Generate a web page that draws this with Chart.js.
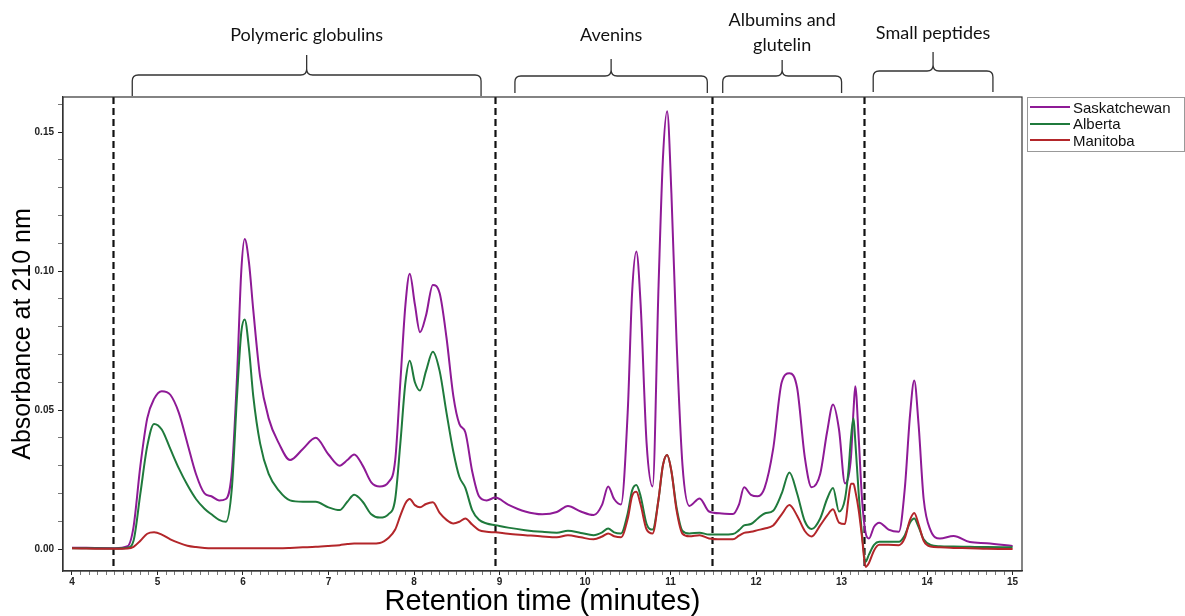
<!DOCTYPE html>
<html>
<head>
<meta charset="utf-8">
<title>Oat protein chromatogram</title>
<script src="https://cdn.jsdelivr.net/npm/chart.js@4.4.1/dist/chart.umd.min.js"></script>
<style>
    html, body { margin: 0; padding: 0; background: #fff; }
    #wrap { position: relative; width: 1185px; height: 616px; }
    #legend {
        position: absolute; left: 1027px; top: 97px; width: 158px; height: 55px;
        box-sizing: border-box; border: 1px solid #999; padding-top: 1px;
        font: 15px "Liberation Sans", Arial, sans-serif; color: #111;
    }
    #legend .row { display: flex; align-items: center; height: 16.5px; }
    #legend .swatch { width: 40px; height: 2px; margin: 0 3px 0 2px; }
</style>
</head>
<body>
<div id="wrap">
    <canvas id="chromatogram" width="1185" height="616"></canvas>
    <div id="legend"></div>
</div>
<script>
// Retention time (minutes) shared by all three traces
const retentionTime = [
    4.0, 4.5, 4.65, 4.72, 4.8, 4.88, 4.96, 5.05, 5.15, 5.25,
    5.35, 5.45, 5.55, 5.63, 5.72, 5.8, 5.87, 5.93, 5.98, 6.02,
    6.07, 6.12, 6.2, 6.3, 6.42, 6.55, 6.7, 6.85, 7.0, 7.13,
    7.22, 7.3, 7.4, 7.5, 7.6, 7.7, 7.78, 7.84, 7.9, 7.95,
    8.01, 8.07, 8.14, 8.22, 8.3, 8.38, 8.46, 8.53, 8.6, 8.68,
    8.76, 8.85, 8.95, 9.1, 9.3, 9.5, 9.67, 9.8, 9.95, 10.1,
    10.2, 10.27, 10.34, 10.42, 10.5, 10.55, 10.6, 10.65, 10.72, 10.79,
    10.86, 10.91, 10.96, 11.01, 11.07, 11.14, 11.22, 11.34, 11.45, 11.6,
    11.73, 11.8, 11.86, 11.94, 12.02, 12.1, 12.2, 12.3, 12.39, 12.48,
    12.57, 12.65, 12.75, 12.83, 12.9, 12.97, 13.04, 13.08, 13.11, 13.14,
    13.16, 13.2, 13.24, 13.28, 13.32, 13.38, 13.44, 13.55, 13.67, 13.74,
    13.8, 13.85, 13.9, 13.96, 14.04, 14.15, 14.31, 14.5, 14.7, 15.0
];

// Absorbance at 210 nm
const saskatchewan = [
    0.0005, 0.0003, 0.001, 0.008, 0.030, 0.047, 0.054, 0.0568, 0.0555, 0.049,
    0.038, 0.027, 0.020, 0.019, 0.0175, 0.018, 0.028, 0.062, 0.100, 0.1115,
    0.103, 0.086, 0.062, 0.047, 0.038, 0.032, 0.036, 0.040, 0.034, 0.030,
    0.032, 0.034, 0.030, 0.024, 0.0225, 0.024, 0.032, 0.060, 0.088, 0.099,
    0.088, 0.078, 0.084, 0.095, 0.092, 0.076, 0.055, 0.045, 0.042, 0.028,
    0.019, 0.0175, 0.0185, 0.016, 0.0135, 0.0125, 0.0133, 0.0155, 0.0135, 0.0122,
    0.016, 0.0225, 0.018, 0.016, 0.050, 0.092, 0.107, 0.088, 0.038, 0.0225,
    0.095, 0.140, 0.1575, 0.128, 0.075, 0.030, 0.0155, 0.0182, 0.0135, 0.0128,
    0.0126, 0.016, 0.0222, 0.0195, 0.019, 0.022, 0.036, 0.060, 0.0632, 0.058,
    0.033, 0.0222, 0.027, 0.042, 0.052, 0.043, 0.0236, 0.026, 0.033, 0.050,
    0.0586, 0.040, 0.0176, 0.006, 0.0038, 0.008, 0.0095, 0.007, 0.0062, 0.022,
    0.048, 0.0606, 0.045, 0.018, 0.0068, 0.0038, 0.0047, 0.0025, 0.0021, 0.0011
];
const alberta = [
    0.0003, 0.0002, 0.0005, 0.003, 0.020, 0.037, 0.045, 0.043, 0.036, 0.029,
    0.023, 0.018, 0.0145, 0.0125, 0.0105, 0.0098, 0.022, 0.055, 0.078, 0.0826,
    0.072, 0.055, 0.038, 0.027, 0.021, 0.0175, 0.017, 0.017, 0.015, 0.014,
    0.017, 0.0195, 0.017, 0.0125, 0.0113, 0.0125, 0.018, 0.038, 0.060, 0.0677,
    0.060, 0.057, 0.064, 0.071, 0.064, 0.049, 0.035, 0.026, 0.022, 0.014,
    0.0105, 0.0092, 0.0086, 0.0077, 0.0068, 0.0062, 0.0059, 0.0066, 0.0058, 0.005,
    0.006, 0.0074, 0.006, 0.0056, 0.013, 0.021, 0.023, 0.019, 0.009, 0.007,
    0.018, 0.030, 0.0338, 0.028, 0.015, 0.0065, 0.0056, 0.0059, 0.0052, 0.0052,
    0.0054, 0.0068, 0.0085, 0.009, 0.011, 0.0128, 0.0138, 0.020, 0.0275, 0.020,
    0.0100, 0.0072, 0.011, 0.018, 0.022, 0.0135, 0.018, 0.028, 0.040, 0.047,
    0.039, 0.020, 0.005, -0.0046, -0.002, 0.0015, 0.0026, 0.0026, 0.0026, 0.005,
    0.0095, 0.011, 0.008, 0.0035, 0.0015, 0.0010, 0.0009, 0.0008, 0.0007, 0.0006
];
const manitoba = [
    0.0003, 0.0001, 0.0002, 0.0008, 0.003, 0.0055, 0.006, 0.0052, 0.0035, 0.0022,
    0.0012, 0.0007, 0.0004, 0.0003, 0.0003, 0.0003, 0.0003, 0.0003, 0.0003, 0.0003,
    0.0003, 0.0003, 0.0003, 0.0003, 0.0003, 0.0004, 0.0006, 0.0008, 0.0011, 0.0014,
    0.0018, 0.002, 0.002, 0.002, 0.0022, 0.004, 0.007, 0.012, 0.0165, 0.018,
    0.0158, 0.015, 0.0162, 0.0168, 0.013, 0.0105, 0.0092, 0.0098, 0.011, 0.0088,
    0.0068, 0.0062, 0.006, 0.0055, 0.005, 0.0045, 0.0042, 0.005, 0.0042, 0.0035,
    0.0045, 0.0056, 0.0046, 0.0042, 0.011, 0.019, 0.0206, 0.016, 0.007, 0.0056,
    0.018, 0.030, 0.0338, 0.028, 0.014, 0.0055, 0.0046, 0.005, 0.0038, 0.0035,
    0.0035, 0.0048, 0.0058, 0.0062, 0.0068, 0.0074, 0.0085, 0.0125, 0.0158, 0.012,
    0.0065, 0.0045, 0.0085, 0.012, 0.0143, 0.0095, 0.009, 0.018, 0.0235, 0.0235,
    0.021, 0.014, 0.004, -0.0064, -0.005, -0.0005, 0.0015, 0.0015, 0.0014, 0.004,
    0.0105, 0.013, 0.009, 0.003, 0.0009, 0.0006, 0.0004, 0.0003, 0.0001, 0.0
];

const seriesNames = ['Saskatchewan', 'Alberta', 'Manitoba'];
const seriesColors = ['#8e1a96', '#1f7a3c', '#b3262a'];

// Fraction boundaries (dashed lines) and the braced retention windows
const regionBounds = [4.48, 8.95, 11.49, 13.26];
const fractionNames = [['Polymeric globulins'], ['Avenins'], ['Albumins and', 'glutelin'], ['Small peptides']];
const fractionStart = [4.705, 9.18, 11.61, 13.37];
const fractionEnd = [8.784, 11.43, 13.0, 14.77];

const xTicks = [];
for (let i = 40; i <= 150; i++) xTicks.push(i / 10);
const yTicks = [];
for (let i = 0; i <= 16; i++) yTicks.push(i / 100);

const axisFont = '"Liberation Sans", Arial, sans-serif';
const isWhole = v => Math.abs(v - Math.round(v)) < 1e-6;
const isMajorY = v => Math.round(v * 100) % 5 === 0;

const dividers = {
    id: 'dividers',
    beforeDatasetsDraw(chart) {
        const { ctx, chartArea, scales } = chart;
        ctx.save();
        ctx.strokeStyle = '#111';
        ctx.lineWidth = 2.2;
        ctx.setLineDash([7, 4]);
        regionBounds.forEach(t => {
            const x = Math.round(scales.x.getPixelForValue(t)) + 0.5;
            ctx.beginPath();
            ctx.moveTo(x, chartArea.top);
            ctx.lineTo(x, chartArea.bottom);
            ctx.stroke();
        });
        ctx.restore();
    }
};

const frame = {
    id: 'frame',
    afterDraw(chart) {
        const { ctx, chartArea } = chart;
        ctx.save();
        ctx.strokeStyle = '#333';
        ctx.lineWidth = 1.2;
        ctx.strokeRect(chartArea.left, chartArea.top, chartArea.right - chartArea.left, chartArea.bottom - chartArea.top);
        ctx.restore();
    }
};

// curly braces above the plot, one per fraction
const braceLayout = [
    { bar: 75, tip: 55, end: 96, text: [35] },
    { bar: 76, tip: 59, end: 93, text: [35] },
    { bar: 76, tip: 60, end: 93, text: [20, 45] },
    { bar: 71, tip: 52, end: 92, text: [33] }
];

function drawBrace(ctx, x1, x2, l) {
    const xc = (x1 + x2) / 2;
    const r = 6;
    ctx.beginPath();
    ctx.moveTo(x1, l.end);
    ctx.lineTo(x1, l.bar + r);
    ctx.quadraticCurveTo(x1, l.bar, x1 + r, l.bar);
    ctx.lineTo(xc - r, l.bar);
    ctx.quadraticCurveTo(xc, l.bar, xc, l.bar - r);
    ctx.lineTo(xc, l.tip);
    ctx.moveTo(xc, l.bar - r);
    ctx.quadraticCurveTo(xc, l.bar, xc + r, l.bar);
    ctx.lineTo(x2 - r, l.bar);
    ctx.quadraticCurveTo(x2, l.bar, x2, l.bar + r);
    ctx.lineTo(x2, l.end);
    ctx.stroke();
}

const braces = {
    id: 'braces',
    afterDraw(chart) {
        const { ctx, scales } = chart;
        ctx.save();
        ctx.strokeStyle = '#333';
        ctx.lineWidth = 1.3;
        ctx.fillStyle = '#111';
        ctx.font = '18px Lato, "Open Sans", sans-serif';
        ctx.textAlign = 'center';
        ctx.textBaseline = 'middle';
        fractionNames.forEach((lines, i) => {
            const x1 = scales.x.getPixelForValue(fractionStart[i]);
            const x2 = scales.x.getPixelForValue(fractionEnd[i]);
            const l = braceLayout[i];
            drawBrace(ctx, x1, x2, l);
            lines.forEach((line, j) => ctx.fillText(line, (x1 + x2) / 2, l.text[j]));
        });
        ctx.restore();
    }
};

const traces = [saskatchewan, alberta, manitoba];

new Chart(document.getElementById('chromatogram'), {
    type: 'line',
    data: {
        datasets: traces.map((values, i) => ({
            label: seriesNames[i],
            data: retentionTime.map((t, k) => ({ x: t, y: values[k] })),
            borderColor: seriesColors[i],
            borderWidth: 2,
            pointRadius: 0,
            cubicInterpolationMode: 'monotone',
            fill: false,
            order: traces.length - 1 - i
        }))
    },
    options: {
        responsive: false,
        animation: false,
        layout: { padding: { top: 97, right: 163, left: 0, bottom: 0 } },
        plugins: {
            legend: { display: false },
            tooltip: { enabled: false }
        },
        scales: {
            x: {
                type: 'linear',
                min: 3.895,
                max: 15.11,
                afterBuildTicks: scale => { scale.ticks = xTicks.map(v => ({ value: v })); },
                afterFit: scale => { scale.height = 45; },
                ticks: {
                    autoSkip: false,
                    maxRotation: 0,
                    padding: 1,
                    color: '#222',
                    font: { family: axisFont, size: 10, weight: 'bold' },
                    callback: v => isWhole(v) ? String(Math.round(v)) : ''
                },
                grid: {
                    drawOnChartArea: false,
                    tickLength: 4,
                    tickColor: c => isWhole(c.tick.value) ? '#222' : '#777'
                },
                border: { display: true, color: '#333', width: 1.2 },
                title: {
                    display: true,
                    text: 'Retention time (minutes)',
                    color: '#000',
                    font: { family: axisFont, size: 29, lineHeight: 1 },
                    padding: { top: 0, bottom: 0 }
                }
            },
            y: {
                min: -0.0079,
                max: 0.1626,
                afterBuildTicks: scale => { scale.ticks = yTicks.map(v => ({ value: v })); },
                afterFit: scale => { scale.width = 63; },
                ticks: {
                    autoSkip: false,
                    padding: 4,
                    color: '#222',
                    font: { family: axisFont, size: 10, weight: 'bold' },
                    callback: v => isMajorY(v) ? v.toFixed(2) : ''
                },
                grid: {
                    drawOnChartArea: false,
                    tickLength: 5,
                    tickColor: c => isMajorY(c.tick.value) ? '#222' : '#777'
                },
                border: { display: true, color: '#333', width: 1.2 },
                title: {
                    display: true,
                    text: 'Absorbance at 210 nm',
                    color: '#000',
                    font: { family: axisFont, size: 25, lineHeight: 1 },
                    padding: { top: 11, bottom: 0 }
                }
            }
        }
    },
    plugins: [dividers, frame, braces]
});

// legend box to the right of the plot
const legend = document.getElementById('legend');
seriesNames.forEach((name, i) => {
    const row = document.createElement('div');
    row.className = 'row';
    const swatch = document.createElement('span');
    swatch.className = 'swatch';
    swatch.style.background = seriesColors[i];
    row.appendChild(swatch);
    row.appendChild(document.createTextNode(name));
    legend.appendChild(row);
});
</script>
</body>
</html>
